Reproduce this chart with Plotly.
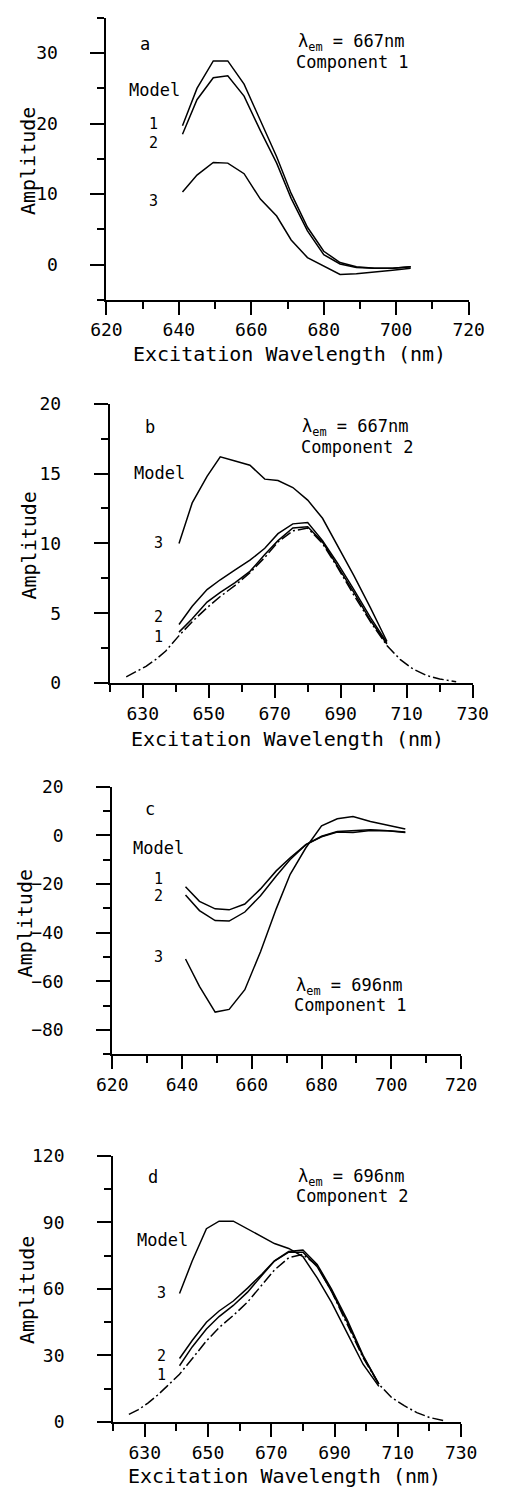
import plotly.graph_objects as go

# ---------------- data ----------------
X_MEAS = [641, 645, 649.5, 653.5, 658, 662.5, 667, 671, 675.5, 680, 684.5, 689, 694, 699, 704]
X_FIT = [625, 628, 631, 634, 637, 641, 645, 649.5, 653.5, 658, 662.5, 667, 671, 675.5,
         680, 684.5, 689, 694, 699, 704, 708, 712, 716, 720, 725]

# panel a: lambda_em = 667 nm, component 1
a_m1 = [19.7, 25.0, 28.9, 28.9, 25.6, 20.4, 15.3, 10.1, 5.3, 1.9, 0.3, -0.3, -0.5, -0.5, -0.3]
a_m2 = [18.5, 23.4, 26.5, 26.8, 23.9, 19.0, 14.4, 9.4, 4.8, 1.4, 0.1, -0.4, -0.5, -0.5, -0.3]
a_m3 = [10.3, 12.7, 14.5, 14.4, 12.9, 9.3, 6.9, 3.5, 1.0, -0.2, -1.4, -1.3, -1.1, -0.8, -0.5]

# panel b: lambda_em = 667 nm, component 2
b_m1 = [3.65, 4.6, 5.8, 6.5, 7.2, 8.0, 9.2, 10.2, 11.1, 11.2, 10.1, 8.4, 6.5, 4.5, 2.8]
b_m2 = [4.2, 5.5, 6.7, 7.4, 8.1, 8.8, 9.65, 10.7, 11.4, 11.5, 10.2, 8.6, 6.7, 4.7, 2.9]
b_m3 = [10.0, 12.9, 14.8, 16.2, 15.9, 15.6, 14.6, 14.5, 14.0, 13.1, 11.8, 9.9, 7.7, 5.4, 3.0]
b_fit = [0.45, 0.8, 1.2, 1.7, 2.3, 3.4, 4.4, 5.4, 6.2, 7.0, 7.9, 9.0, 10.1, 10.9,
         11.1, 10.0, 8.3, 6.3, 4.4, 2.7, 1.7, 1.0, 0.55, 0.3, 0.1]

# panel c: lambda_em = 696 nm, component 1
c_m1 = [-21.1, -27.1, -30.2, -30.6, -28.2, -22.0, -14.6, -9.2, -3.8, -0.4, 1.6, 1.9, 2.3, 1.9, 1.4]
c_m2 = [-24.5, -30.9, -35.0, -35.2, -31.5, -24.8, -16.7, -9.9, -3.8, -0.6, 1.4, 1.2, 2.0, 1.9, 1.2]
c_m3 = [-50.8, -62.0, -72.6, -71.5, -63.4, -47.8, -30.2, -16.0, -5.1, 3.9, 6.8, 7.7, 5.7, 4.3, 2.6]

# panel d: lambda_em = 696 nm, component 2
d_m1 = [25.3, 33.8, 41.9, 47.5, 52.5, 58.5, 66.0, 72.5, 76.5, 76.5, 70.0, 59.0, 45.0, 29.5, 17.0]
d_m2 = [28.6, 36.7, 44.9, 50.0, 54.5, 60.3, 66.6, 72.6, 76.8, 77.5, 71.0, 60.0, 46.0, 30.0, 17.0]
d_m3 = [57.9, 72.5, 87.1, 90.5, 90.5, 87.1, 83.4, 80.4, 78.2, 74.5, 64.9, 54.0, 40.0, 26.0, 16.0]
d_fit = [3.4, 5.5, 8.5, 12.0, 16.0, 21.5, 28.5, 36.5, 42.5, 48.0, 54.0, 61.5, 68.5, 74.0,
         75.5, 70.5, 59.0, 44.0, 29.0, 17.0, 11.0, 7.3, 4.2, 2.0, 0.4]

PANEL_LETTERS = ["a", "b", "c", "d"]
EM_LABELS = ["λ<sub>em</sub> = 667nm", "λ<sub>em</sub> = 667nm",
             "λ<sub>em</sub> = 696nm", "λ<sub>em</sub> = 696nm"]
COMP_LABELS = ["Component 1", "Component 2", "Component 1", "Component 2"]
X_TITLE = "Excitation Wavelength (nm)"
Y_TITLE = "Amplitude"

# ---------------- layout helpers ----------------
W, H = 509, 1496
FONT = "DejaVu Sans Mono"


def px_x(p):
    return p / W


def px_y(p):
    return 1 - p / H


fig = go.Figure()
line = dict(color="black", width=1.5)
fitline = dict(color="black", width=1.5, dash="11px,3px,2px,3px")

panels = [
    dict(series=[a_m1, a_m2, a_m3], fit=None),
    dict(series=[b_m1, b_m2, b_m3], fit=b_fit),
    dict(series=[c_m1, c_m2, c_m3], fit=None),
    dict(series=[d_m1, d_m2, d_m3], fit=d_fit),
]

for i, p in enumerate(panels):
    xa = "x" if i == 0 else f"x{i+1}"
    ya = "y" if i == 0 else f"y{i+1}"
    for s in p["series"]:
        fig.add_trace(go.Scatter(x=X_MEAS, y=s, mode="lines", line=line,
                                 xaxis=xa, yaxis=ya, showlegend=False, hoverinfo="skip"))
    if p["fit"] is not None:
        fig.add_trace(go.Scatter(x=X_FIT, y=p["fit"], mode="lines", line=fitline,
                                 xaxis=xa, yaxis=ya, showlegend=False, hoverinfo="skip"))

# domains in pixels: (x0, x1, ytop, ybottom)
doms = [(96.5, 483, 7, 293), (100, 487.3, 398.3, 681.7),
        (102.7, 475, 786.7, 1058.3), (103.6, 475, 1161, 1431)]
xcfg = [dict(range=[620, 720], tick0=620, dtick=20, mtick0=620, mdtick=10),
        dict(range=[620, 730], tick0=630, dtick=20, mtick0=620, mdtick=10),
        dict(range=[620, 720], tick0=620, dtick=20, mtick0=620, mdtick=10),
        dict(range=[620, 730], tick0=630, dtick=20, mtick0=620, mdtick=10)]
ycfg = [dict(range=[-5, 35], dtick=10, mdtick=5),
        dict(range=[0, 20], dtick=5, mdtick=2.5),
        dict(range=[-90, 20], dtick=20, mdtick=10),
        dict(range=[0, 120], dtick=30, mdtick=15)]

layout = dict(width=W, height=H, margin=dict(l=0, r=0, t=0, b=0),
              paper_bgcolor="white", plot_bgcolor="white", showlegend=False,
              font=dict(family=FONT, color="black"))

for i in range(4):
    x0, x1, yt, yb = doms[i]
    xk = "xaxis" if i == 0 else f"xaxis{i+1}"
    yk = "yaxis" if i == 0 else f"yaxis{i+1}"
    ya = "y" if i == 0 else f"y{i+1}"
    xa = "x" if i == 0 else f"x{i+1}"
    xc, yc = xcfg[i], ycfg[i]
    layout[xk] = dict(domain=[px_x(x0), px_x(x1)], anchor=ya, range=xc["range"],
                      tickmode="linear", tick0=xc["tick0"], dtick=xc["dtick"],
                      showline=True, linecolor="black", linewidth=2,
                      ticks="outside", ticklen=13, tickwidth=1.5, tickcolor="black",
                      ticklabelstandoff=0,
                      tickfont=dict(family=FONT, size=18, color="black"),
                      minor=dict(tick0=xc["mtick0"], dtick=xc["mdtick"], ticks="outside",
                                 ticklen=7, tickwidth=1.5, tickcolor="black", showgrid=False),
                      showgrid=False, zeroline=False, fixedrange=True)
    layout[yk] = dict(domain=[px_y(yb), px_y(yt)], anchor=xa, range=yc["range"],
                      tickmode="linear", tick0=0, dtick=yc["dtick"],
                      showline=True, linecolor="black", linewidth=2,
                      ticks="outside", ticklen=14, tickwidth=1.5, tickcolor="black",
                      ticklabelstandoff=29,
                      tickfont=dict(family=FONT, size=18, color="black"),
                      minor=dict(tick0=0, dtick=yc["mdtick"], ticks="outside",
                                 ticklen=7, tickwidth=1.5, tickcolor="black", showgrid=False),
                      showgrid=False, zeroline=False, fixedrange=True)

fig.update_layout(**layout)

ann = []


def add_text(text, x, y, size=16, angle=0):
    ann.append(dict(text=text, x=px_x(x), y=px_y(y), xref="paper", yref="paper",
                    showarrow=False, xanchor="center", yanchor="middle", textangle=angle,
                    font=dict(family=FONT, size=size, color="black")))


# panel text positions (pixels)
letter_pos = [(138, 33), (143, 422), (143, 809), (146, 1183)]
em_pos = [(357, 32), (362, 422), (355, 989), (357, 1183)]
comp_pos = [(359, 52), (364, 442), (357, 1008), (359, 1202)]
model_pos = [(148, 80), (153, 469), (152.5, 849), (156, 1246)]
num_pos = [
    [("1", 147, 115), ("2", 147, 134), ("3", 147, 193)],
    [("3", 152, 540), ("2", 152, 615), ("1", 152, 635)],
    [("1", 152, 880), ("2", 152, 898), ("3", 152, 959)],
    [("3", 155, 1300), ("2", 155, 1364), ("1", 155, 1383)],
]
ytitle_pos = [(13, 152), (14, 542), (10, 925), (11, 1297)]
xtitle_pos = [(292, 348), (290, 738), None, (286, 1486)]

for i in range(4):
    add_text(PANEL_LETTERS[i], *letter_pos[i], size=17)
    add_text(EM_LABELS[i], *em_pos[i], size=17)
    add_text(COMP_LABELS[i], *comp_pos[i], size=17)
    add_text("Model", *model_pos[i], size=17)
    for t, x, y in num_pos[i]:
        add_text(t, x, y, size=15)
    add_text(Y_TITLE, *ytitle_pos[i], size=20, angle=-90)
    if xtitle_pos[i] is not None:
        add_text(X_TITLE, *xtitle_pos[i], size=20)

fig.update_layout(annotations=ann)
fig.write_html("out.html")
